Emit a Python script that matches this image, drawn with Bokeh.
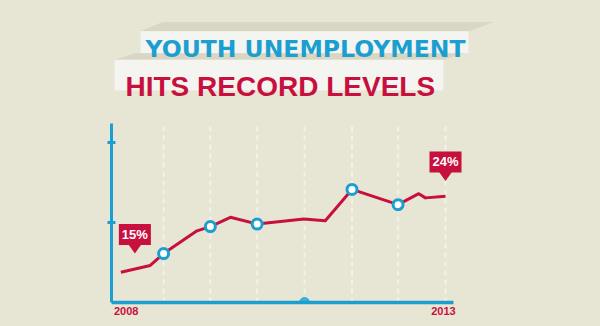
from bokeh.plotting import figure
from bokeh.models import Range1d, FixedTicker, Label, PolyAnnotation
from bokeh.embed import file_html
from bokeh.resources import INLINE

# ---------------- data ----------------
years = [2008.14, 2008.58, 2008.78, 2009.28, 2009.48, 2009.78, 2010.18,
         2010.88, 2011.20, 2011.60, 2012.29, 2012.60, 2012.70, 2013.00]
rate = [15.0, 15.8, 17.2, 19.9, 20.4, 21.5, 20.7,
        21.3, 21.1, 24.8, 23.0, 24.3, 23.8, 24.0]
marked = [2, 4, 6, 9, 10]
grid_years = [2008.78, 2009.48, 2010.18, 2010.89, 2011.60, 2012.29, 2013.00]
y_ticks = [20.9, 30.3]
x_tick_pos = [2008.22, 2012.97]
x_tick_labels = ["2008", "2013"]
callout_text = ["15%", "24%"]
callout_x = [2008.35, 2013.00]
callout_y = [17.2, 25.8]
title_top = "YOUTH UNEMPLOYMENT"
title_bottom = "HITS RECORD LEVELS"

# ---------------- style / geometry ----------------
BG = "#e7e5d3"
BLUE = "#1b9fd0"
RED = "#c8103e"
BOX = "#f4f4f0"
SHADOW = "#d9d7c3"
GRID = "#f3f2e9"

W, H = 600, 326
FL, FB = 20, 302            # frame left / bottom (frame spans to right & top edge)
AX_L, AX_R, AX_T = 111, 453, 123   # axis extents in pixels
PX_YR = 66.8                # pixels per year
PX_PCT = 8.444              # pixels per percentage point
AX_X0, AX_Y0 = 2008.0, 11.41

X0 = AX_X0 - (AX_L - FL) / PX_YR
X1 = AX_X0 + (W - AX_L) / PX_YR
Y0 = AX_Y0
Y1 = AX_Y0 + FB / PX_PCT
KX, KY = 1 / PX_YR, 1 / PX_PCT


def dx(sx):
    return AX_X0 + (sx - AX_L) * KX


def dy(sy):
    return AX_Y0 + (FB - sy) * KY


p = figure(width=W, height=H, x_range=Range1d(X0, X1), y_range=Range1d(Y0, Y1),
           output_backend="svg", toolbar_location=None, min_border=0,
           min_border_left=FL, min_border_right=0,
           min_border_top=0, min_border_bottom=H - FB,
           background_fill_color=BG, border_fill_color=None,
           outline_line_color=None)
p.styles = {"background-color": BG}

# axes
p.xaxis.bounds = (AX_X0, dx(AX_R))
p.xaxis.ticker = FixedTicker(ticks=x_tick_pos)
p.xaxis.major_label_overrides = {t: s for t, s in zip(x_tick_pos, x_tick_labels)}
p.xaxis.axis_line_color = BLUE
p.xaxis.axis_line_width = 3.5
p.xaxis.major_tick_line_color = None
p.xaxis.minor_tick_line_color = None
p.xaxis.major_tick_in = 0
p.xaxis.major_tick_out = 0
p.xaxis.major_label_standoff = 4
p.xaxis.major_label_text_color = RED
p.xaxis.major_label_text_font = "Liberation Sans"
p.xaxis.major_label_text_font_style = "bold"
p.xaxis.major_label_text_font_size = "11px"

p.yaxis.fixed_location = AX_X0
p.yaxis.bounds = (AX_Y0, dy(AX_T))
p.yaxis.ticker = FixedTicker(ticks=[], minor_ticks=y_ticks)
p.yaxis.axis_line_color = BLUE
p.yaxis.axis_line_width = 3
p.yaxis.major_tick_line_color = None
p.yaxis.minor_tick_line_color = BLUE
p.yaxis.minor_tick_line_width = 3
p.yaxis.minor_tick_in = 4
p.yaxis.minor_tick_out = 4

p.grid.visible = False

# dashed vertical guides
p.segment(x0=grid_years, y0=[AX_Y0] * len(grid_years), x1=grid_years,
          y1=[dy(AX_T)] * len(grid_years), line_color=GRID, line_width=2,
          line_dash="5 4")

# small bump on the x axis
p.scatter([grid_years[3]], [AX_Y0], size=10, color="#3db1d9")

# line and markers
p.line(years, rate, line_color=RED, line_width=3, line_join="round")
p.scatter([years[i] for i in marked], [rate[i] for i in marked], size=10,
          fill_color="white", line_color=BLUE, line_width=3)

# callouts
tri_xs = [[cx - 7.5 * KX, cx + 7.5 * KX, cx] for cx in callout_x]
tri_ys = [[cy + 10.5 * KY, cy + 10.5 * KY, cy] for cy in callout_y]
p.patches(tri_xs, tri_ys, fill_color=RED, line_color=None)
for t, cx, cy in zip(callout_text, callout_x, callout_y):
    p.add_layout(Label(x=cx, y=cy, y_offset=19, text=t, text_align="center",
                       text_baseline="middle", text_color="white",
                       text_font="Liberation Sans", text_font_style="bold",
                       text_font_size="13px", background_fill_color=RED,
                       padding=3))


# title banners
def poly(pts, color):
    p.add_layout(PolyAnnotation(xs=[dx(a) for a, b in pts], ys=[dy(b) for a, b in pts],
                                fill_color=color, fill_alpha=1, line_color=None))


poly([(140, 31), (162, 21.5), (493, 21.5), (468, 31)], SHADOW)
poly([(140, 30.7), (468, 30.7), (468, 52.7), (140, 52.7)], BOX)
poly([(114, 59.3), (135, 52.7), (464, 52.7), (443, 59.3)], SHADOW)
poly([(114, 59.3), (443, 59.3), (443, 90), (114, 90)], BOX)

p.add_layout(Label(x=dx(145), y=dy(48.3), text=title_top, text_align="left",
                   text_baseline="alphabetic", text_color=BLUE,
                   text_font="DejaVu Sans", text_font_style="bold",
                   text_font_size="23.5px"))
p.add_layout(Label(x=dx(125), y=dy(86), text=title_bottom, text_align="left",
                   text_baseline="alphabetic", text_color=RED,
                   text_font="Liberation Sans", text_font_style="bold",
                   text_font_size="28px"))

open("out.html", "w").write(file_html(p, INLINE))
